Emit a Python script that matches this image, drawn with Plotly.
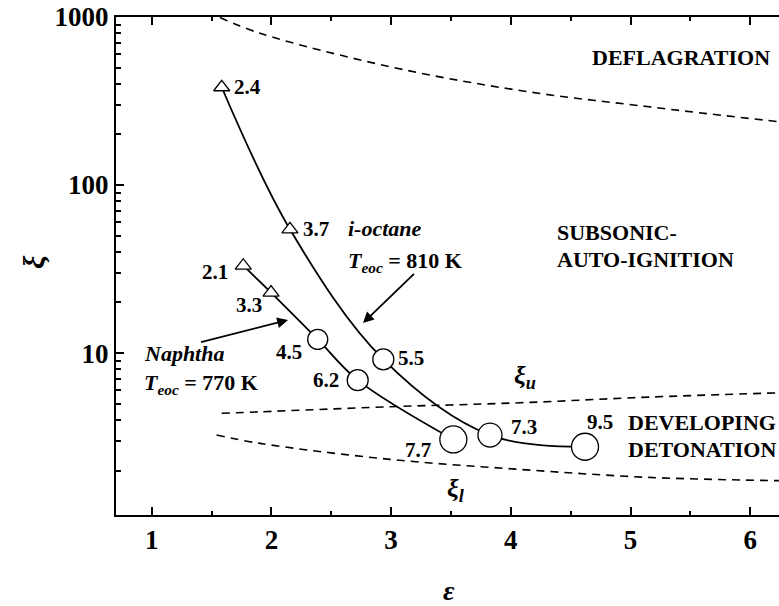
import math
import plotly.graph_objects as go

# ---------------- data ----------------
octane_eps = [1.585, 2.155, 2.935, 3.826, 4.62]
octane_xi = [382, 54.5, 9.17, 3.25, 2.77]
octane_lbl = ["2.4", "3.7", "5.5", "7.3", "9.5"]

naphtha_eps = [1.765, 1.997, 2.387, 2.721, 3.52]
naphtha_xi = [33.1, 22.9, 12.06, 6.9, 3.06]
naphtha_lbl = ["2.1", "3.3", "4.5", "6.2", "7.7"]

defl_eps = [1.57, 1.905, 2.99, 4.077, 5.155, 6.24]
defl_xi = [993, 800, 506, 365, 292, 238]

xiu_eps = [1.584, 1.905, 2.99, 4.077, 5.16, 6.24]
xiu_xi = [4.38, 4.47, 4.79, 5.06, 5.47, 5.80]

xil_eps = [1.542, 1.905, 2.99, 4.077, 5.155, 6.24]
xil_xi = [3.25, 2.90, 2.33, 2.03, 1.82, 1.74]

x_ticks = [1, 2, 3, 4, 5, 6]
y_ticks = [10, 100, 1000]

# ---------------- styles ----------------
FONT = "Liberation Serif"
W, H = 779, 606
L, R, T, B = 116, 0, 17, 91
PX_PER_UNIT = 119.7
XMIN = 1 - 35.7 / PX_PER_UNIT
XMAX = XMIN + (W - L - R) / PX_PER_UNIT
YMIN, YMAX = math.log10(1.087), 3.0

oct_sym = ["triangle-up", "triangle-up", "circle", "circle", "circle"]
oct_size = [14, 14, 21, 24, 27]
nap_sym = ["triangle-up", "triangle-up", "circle", "circle", "circle"]
nap_size = [14, 14, 20, 21, 27]

# label offsets (px) relative to the marker: (xanchor, xshift, yshift)
oct_off = [("left", 10, 0), ("left", 11, 0), ("left", 13, 1), ("left", 19, 8), ("center", 15, 25)]
nap_off = [("right", -13, -6), ("right", -7, -12), ("right", -14, -13), ("right", -17, 0), ("right", -20, -11)]


def px(xp, yp):
    """pixel position -> paper coords"""
    return (xp - L) / (W - L - R), (H - B - yp) / (H - B - T)


fig = go.Figure()

dash = dict(color="black", width=1.6, dash="8px,6px")
for xs, ys in [(defl_eps, defl_xi), (xiu_eps, xiu_xi), (xil_eps, xil_xi)]:
    fig.add_trace(go.Scatter(x=xs, y=ys, mode="lines", line=dict(shape="spline", smoothing=1.0, **dash),
                             hoverinfo="skip", showlegend=False))

for xs, ys in [(octane_eps, octane_xi), (naphtha_eps, naphtha_xi)]:
    fig.add_trace(go.Scatter(x=xs, y=ys, mode="lines",
                             line=dict(color="black", width=1.8, shape="spline", smoothing=1.0),
                             showlegend=False))

for xs, ys, sym, sz in [(octane_eps, octane_xi, oct_sym, oct_size), (naphtha_eps, naphtha_xi, nap_sym, nap_size)]:
    fig.add_trace(go.Scatter(x=xs, y=ys, mode="markers",
                             marker=dict(symbol=sym, size=sz, color="white", opacity=1,
                                         line=dict(color="black", width=1.3)),
                             showlegend=False))

ann = []
lblfont = dict(family=FONT, size=21, color="black")
for xs, ys, lbls, offs in [(octane_eps, octane_xi, octane_lbl, oct_off), (naphtha_eps, naphtha_xi, naphtha_lbl, nap_off)]:
    for x, y, t, (xa, dx, dy) in zip(xs, ys, lbls, offs):
        ann.append(dict(x=x, y=math.log10(y), xref="x", yref="y", text=f"<b>{t}</b>", showarrow=False,
                        xanchor=xa, yanchor="middle", xshift=dx, yshift=dy, font=lblfont))


def text_at(xp, yp, text, xanchor="left", size=22):
    x, y = px(xp, yp)
    ann.append(dict(x=x, y=y, xref="paper", yref="paper", text=text, showarrow=False,
                    xanchor=xanchor, yanchor="middle", font=dict(family=FONT, size=size, color="black")))


text_at(590, 57, "<b>DEFLAGRATION</b>")
text_at(555, 232, "<b>SUBSONIC-</b>")
text_at(555, 259, "<b>AUTO-IGNITION</b>")
text_at(626, 422, "<b>DEVELOPING</b>")
text_at(626, 449, "<b>DETONATION</b>")
text_at(346, 229, "<b><i>i-octane</i></b>")
text_at(346, 262, "<b><i>T</i><sub><i>eoc</i></sub> = 810 K</b>")
text_at(142, 353, "<b><i>Naphtha</i></b>")
text_at(142, 384, "<b><i>T</i><sub><i>eoc</i></sub> = 770 K</b>")
text_at(512, 377, "<b><i>ξ<sub>u</sub></i></b>", size=26)
text_at(445, 490, "<b><i>ξ<sub>l</sub></i></b>", size=26)


def arrow(tail, head):
    x, y = px(*head)
    ann.append(dict(x=x, y=y, xref="paper", yref="paper", text=" ", showarrow=True,
                    ax=tail[0] - head[0], ay=tail[1] - head[1], axref="pixel", ayref="pixel",
                    arrowhead=2, arrowsize=1.2, arrowwidth=1.8, arrowcolor="black"))


arrow((417, 271), (363, 323))
arrow((198, 343), (288, 320))

# axis titles
xt, yt = px(449, 590)
ann.append(dict(x=xt, y=yt, xref="paper", yref="paper", text="<b><i>ε</i></b>", showarrow=False,
                xanchor="center", yanchor="middle", font=dict(family=FONT, size=28, color="black")))
xt, yt = px(33, 262)
ann.append(dict(x=xt, y=yt, xref="paper", yref="paper", text="<b><i>ξ</i></b>", showarrow=False, textangle=-90,
                xanchor="center", yanchor="middle", font=dict(family=FONT, size=30, color="black")))

fig.update_layout(
    width=W, height=H, margin=dict(l=L, r=R, t=T, b=B),
    plot_bgcolor="white", paper_bgcolor="white",
    annotations=ann, showlegend=False,
)
fig.update_xaxes(range=[XMIN, XMAX], showline=True, linecolor="black", linewidth=2, mirror="ticks",
                 ticks="inside", ticklen=8, tickwidth=1.5, tickcolor="black",
                 tickvals=x_ticks, ticktext=[f"<b>{v}</b>" for v in x_ticks],
                 tickfont=dict(family=FONT, size=27, color="black"),
                 minor=dict(ticks="inside", ticklen=4, tickwidth=1.5, tickcolor="black", dtick=0.5, tick0=0),
                 showgrid=False, zeroline=False)
fig.update_yaxes(type="log", range=[YMIN, YMAX], showline=True, linecolor="black", linewidth=2, mirror=False,
                 ticks="inside", ticklen=8, tickwidth=1.5, tickcolor="black",
                 tickvals=y_ticks, ticktext=[f"<b>{v}</b>" for v in y_ticks],
                 tickfont=dict(family=FONT, size=27, color="black"),
                 minor=dict(ticks="inside", ticklen=5, tickwidth=1.5, tickcolor="black", dtick="D1"),
                 showgrid=False, zeroline=False)

fig.write_html("out.html")
